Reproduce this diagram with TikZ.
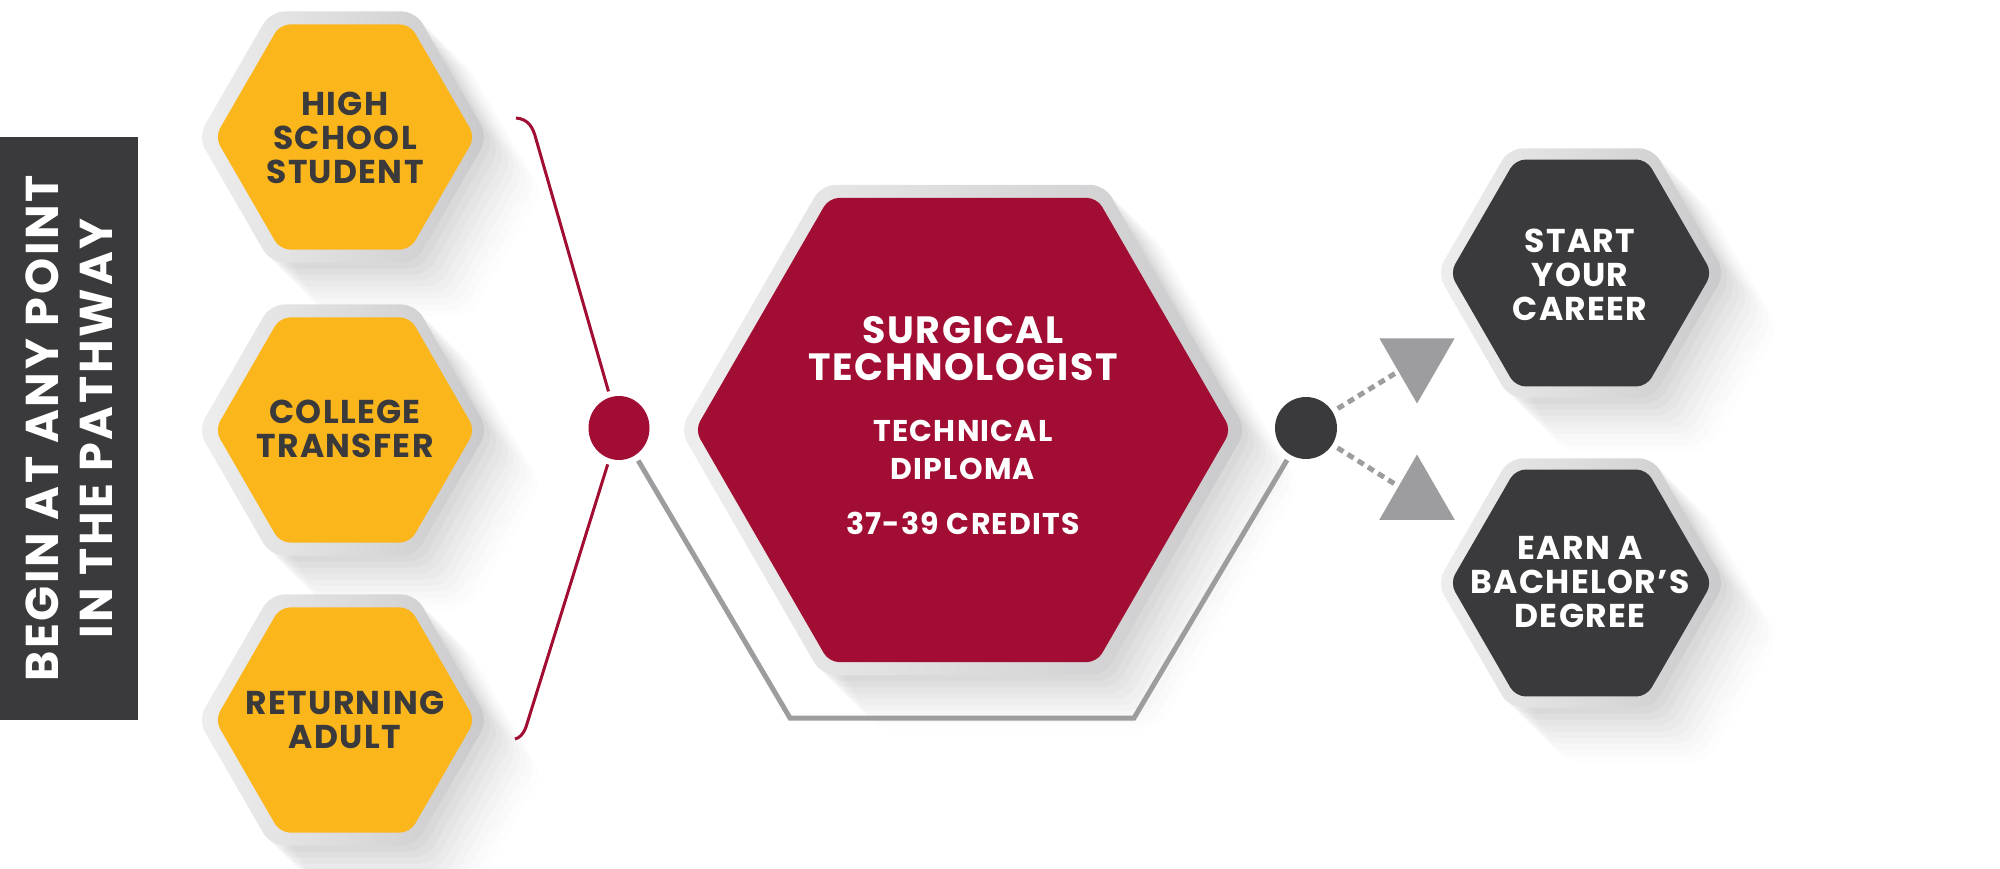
\documentclass[tikz,border=0pt]{standalone}
\usepackage{fontspec}
\setmainfont{Poppins}
\usetikzlibrary{shapes.geometric,shadows}

\definecolor{pathyellow}{HTML}{FBB61C}
\definecolor{pathred}{HTML}{A10D33}
\definecolor{pathdark}{HTML}{3A3A3C}
\definecolor{pathgray}{HTML}{9D9D9F}
\definecolor{rimlight}{HTML}{EEEEEE}
\definecolor{rimdark}{HTML}{CACACC}

\begin{document}
\begin{tikzpicture}[x=1pt,y=-1pt,
    hexrim/.style={regular polygon,regular polygon sides=6,inner sep=0pt,minimum size=#1,
      rounded corners=14pt,left color=rimlight,right color=rimdark,
      general shadow={fill=black,opacity=.022,shadow xshift=6pt,shadow yshift=-6pt},
      general shadow={fill=black,opacity=.022,shadow xshift=12pt,shadow yshift=-12pt},
      general shadow={fill=black,opacity=.02,shadow xshift=18pt,shadow yshift=-18pt},
      general shadow={fill=black,opacity=.02,shadow xshift=24pt,shadow yshift=-24pt},
      general shadow={fill=black,opacity=.017,shadow xshift=30pt,shadow yshift=-30pt},
      general shadow={fill=black,opacity=.015,shadow xshift=36pt,shadow yshift=-36pt},
      general shadow={fill=black,opacity=.012,shadow xshift=42pt,shadow yshift=-42pt},
      general shadow={fill=black,opacity=.01,shadow xshift=48pt,shadow yshift=-48pt},
      general shadow={fill=black,opacity=.008,shadow xshift=54pt,shadow yshift=-54pt}},
    hexface/.style={regular polygon,regular polygon sides=6,inner sep=0pt,minimum size=#1,rounded corners=10pt},
    hextext/.style={align=center,inner sep=0pt,font=\bfseries\fontsize{33}{34}\selectfont\addfontfeature{LetterSpace=4}},
    redline/.style={draw=pathred,line width=3pt},
    outline/.style={draw=pathgray,line width=5pt},
    dashline/.style={draw=pathgray,line width=5pt,dash pattern=on 7pt off 5pt,shorten <=6pt,shorten >=2pt},
    ]
\useasboundingbox (0,0) rectangle (2000,869);

% side bar
\node[fill=pathdark,text=white,rotate=90,minimum width=583pt,minimum height=138pt,inner sep=0pt,align=center,
      font=\bfseries\fontsize{46}{54}\selectfont\addfontfeature{LetterSpace=6}] (bar) at (69,428.5)
      {BEGIN AT ANY POINT\\IN THE PATHWAY};

% starting points
\node[hexrim=290pt] (hsrim) at (343,137) {};
\node[hexface=260pt,fill=pathyellow] (hs) at (345,137) {};
\node[hextext,text=pathdark] (hstext) at (345,138) {HIGH\\SCHOOL\\STUDENT};

\node[hexrim=290pt] (ctrim) at (343,430) {};
\node[hexface=260pt,fill=pathyellow] (ct) at (345,430) {};
\node[hextext,text=pathdark] (cttext) at (345,429) {COLLEGE\\TRANSFER};

\node[hexrim=290pt] (rarim) at (343,720) {};
\node[hexface=260pt,fill=pathyellow] (ra) at (345,720) {};
\node[hextext,text=pathdark] (ratext) at (345,720) {RETURNING\\ADULT};

% program
\node[hexrim=566pt] (strim) at (963,430) {};
\node[hexface=536pt,fill=pathred] (st) at (963,430) {};
\node[hextext,text=white,font=\bfseries\fontsize{38}{37}\selectfont\addfontfeature{LetterSpace=4}] (sttitle) at (963,349) {SURGICAL\\TECHNOLOGIST};
\node[hextext,text=white,font=\bfseries\fontsize{30}{38}\selectfont\addfontfeature{LetterSpace=4}] (stsub) at (963,450) {TECHNICAL\\DIPLOMA};
\node[hextext,text=white,font=\bfseries\fontsize{30}{38}\selectfont\addfontfeature{LetterSpace=4}] (stcred) at (963,523) {37-39 CREDITS};

% outcomes
\node[hexrim=288pt] (scrim) at (1581,273) {};
\node[hexface=262pt,fill=pathdark] (sc) at (1581,273) {};
\node[hextext,text=white] (sctext) at (1580,275) {START\\YOUR\\CAREER};

\node[hexrim=288pt] (bdrim) at (1581,583) {};
\node[hexface=262pt,fill=pathdark] (bd) at (1581,583) {};
\node[hextext,text=white] (bdtext) at (1580,582) {EARN A\\BACHELOR’S\\DEGREE};

% dots and arrows
\node[ellipse,fill=pathred,minimum width=61pt,minimum height=64pt,inner sep=0pt] (rdot) at (619,428) {};
\node[ellipse,fill=pathdark,minimum width=62pt,minimum height=62pt,inner sep=0pt] (ddot) at (1306,428) {};
\node[regular polygon,regular polygon sides=3,minimum size=87pt,inner sep=0pt,fill=pathgray,shape border rotate=180] (uptri) at (1417,360) {};
\node[regular polygon,regular polygon sides=3,minimum size=87pt,inner sep=0pt,fill=pathgray] (lowtri) at (1417,498) {};

\coordinate (topend) at (516,118);
\coordinate (topbend) at (536,139);
\coordinate (lowbend) at (526,727);
\coordinate (lowend) at (515,739);
\coordinate (gl) at (790,718);
\coordinate (gr) at (1134,718);

\draw[redline,shorten >=6pt] (topend) .. controls (528,119) and (533,127) .. (topbend) -- (rdot);
\draw[redline,shorten <=6pt] (rdot) -- (lowbend) .. controls (523,735) and (519,738) .. (lowend);
\draw[outline,shorten <=6pt,shorten >=6pt] (rdot) -- (gl) -- (gr) -- (ddot);
\draw[dashline] (ddot) -- (uptri);
\draw[dashline] (ddot) -- (lowtri);
\end{tikzpicture}
\end{document}
